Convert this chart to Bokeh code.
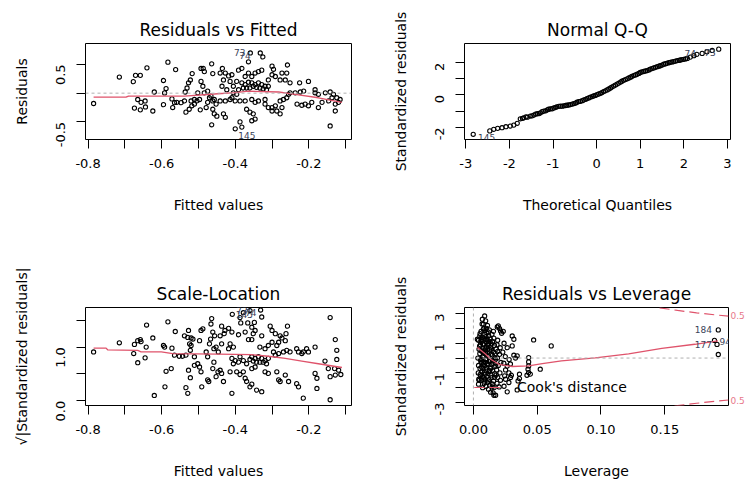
import math
from bokeh.plotting import figure
from bokeh.layouts import column, row
from bokeh.models import Range1d, FixedTicker, LinearAxis, Span
from bokeh.core.properties import value
from bokeh.embed import file_html
from bokeh.resources import INLINE

FONT = "DejaVu Sans"
RED = "#DF536B"
LABEL_COL = "#3a4258"

# ---------------- Panel 1: Residuals vs Fitted ----------------
rf_fitted = [-0.785, -0.715, -0.677, -0.671, -0.658, -0.640, -0.665, -0.645, -0.656, -0.674, -0.658, -0.644,
             -0.624, -0.620, -0.595, -0.583, -0.562, -0.592, -0.588, -0.595, -0.572, -0.565, -0.570, -0.559,
             -0.547, -0.538, -0.536, -0.531, -0.527, -0.522, -0.517, -0.534, -0.525, -0.518, -0.511, -0.504,
             -0.497, -0.493, -0.487, -0.484, -0.464, -0.461, -0.493, -0.488, -0.484, -0.475, -0.470, -0.466,
             -0.461, -0.457, -0.452, -0.479, -0.475, -0.461, -0.495, -0.457, -0.450, -0.464, -0.502, -0.511,
             -0.520,
             -0.359, -0.364, -0.332, -0.325,
             -0.435, -0.441, -0.427, -0.418, -0.409, -0.432, -0.414, -0.436, -0.423, -0.405, -0.391, -0.382,
             -0.396, -0.373, -0.364, -0.355, -0.346, -0.337, -0.328, -0.300, -0.296, -0.300, -0.291, -0.273,
             -0.258, -0.260, -0.264, -0.251, -0.225, -0.201, -0.278, -0.310,
             -0.382, -0.373, -0.364, -0.355, -0.346, -0.337, -0.328, -0.319, -0.310, -0.378, -0.369, -0.360,
             -0.351, -0.342, -0.333, -0.324, -0.315, -0.391, -0.405, -0.396, -0.409,
             -0.441, -0.427, -0.414, -0.400, -0.387, -0.373, -0.355, -0.346, -0.337, -0.319, -0.319, -0.310,
             -0.300, -0.291, -0.278, -0.269, -0.260, -0.255, -0.251, -0.237, -0.223, -0.214, -0.183, -0.183,
             -0.174, -0.155, -0.142, -0.133, -0.124, -0.115, -0.146, -0.164, -0.192, -0.201, -0.210, -0.232,
             -0.219, -0.174, -0.128, -0.273, -0.287, -0.300,
             -0.432, -0.427, -0.369, -0.360, -0.351, -0.346, -0.355, -0.387, -0.382, -0.400, -0.278, -0.128,
             -0.142, -0.137, -0.119]
rf_resid = [-0.18, 0.28, 0.20, 0.31, 0.31, 0.44, -0.11, -0.135, -0.16, -0.26, -0.29, -0.24,
            -0.31, 0.02, 0.22, 0.54, 0.41, 0.005, 0.08, -0.20, -0.10, -0.165, -0.25, -0.16,
            -0.165, -0.135, 0.02, 0.09, 0.18, 0.23, 0.34, -0.33, -0.28, -0.22, -0.19, -0.135,
            -0.11, 0.43, 0.43, 0.375, 0.51, 0.34, 0.205, 0.12, 0.006, 0.035, -0.08, -0.05,
            -0.135, -0.11, -0.19, -0.25, -0.16, -0.28, -0.29, -0.36, -0.40, -0.55, 0.006, -0.11,
            -0.135,
            0.70, 0.546, 0.70, 0.63,
            0.43, 0.35, 0.35, 0.30, 0.32, 0.23, 0.205, 0.12, 0.06, 0.12, 0.40, 0.43,
            0.205, 0.29, 0.35, 0.29, 0.35, 0.375, 0.40, 0.47, 0.415, 0.32, 0.29, 0.35,
            0.49, 0.35, 0.23, 0.18, 0.18, 0.205, 0.23, 0.23,
            0.18, 0.15, 0.19, 0.18, 0.15, 0.18, 0.15, 0.12, 0.12, 0.09, 0.09, 0.09,
            0.12, 0.10, 0.09, 0.075, 0.06, 0.06, 0.006, -0.02, -0.08,
            -0.135, -0.135, -0.11, -0.135, -0.135, -0.135, -0.11, -0.16, -0.135, -0.11, -0.19, -0.25,
            -0.25, -0.22, -0.135, -0.11, -0.08, -0.02, 0.006, 0.006, 0.02, 0.035, 0.06, 0.006,
            -0.02, 0.006, 0.02, -0.02, -0.08, -0.11, -0.135, -0.16, -0.16, -0.22, -0.19, -0.19,
            -0.21, -0.25, -0.19, -0.25, -0.31, -0.31,
            -0.36, -0.42, -0.28, -0.33, -0.36, -0.45, -0.48, -0.50, -0.59, -0.62, -0.36, -0.31,
            -0.57, -0.08, -0.16]
rf_smooth_x = [-0.785, -0.697, -0.690, -0.538, -0.447, -0.400, -0.364, -0.282, -0.237, -0.174, -0.110]
rf_smooth_y = [-0.07, -0.07, -0.05, -0.05, -0.01, 0.01, 0.035, 0.02, -0.02, -0.08, -0.16]
rf_ids = ["73", "74", "145"]
rf_id_x = [-0.372, -0.358, -0.345]
rf_id_y = [0.71, 0.66, -0.73]

# ---------------- Panel 2: Normal Q-Q ----------------
qq_theo = [-2.83, -2.45, -2.36, -2.27, -2.17, -2.08, -1.98, -1.90, -1.82, -1.75, -1.70, -1.67, -1.62,
           -1.59, -1.52, -1.48, -1.44, -1.40, -1.36, -1.32, -1.29, -1.25, -1.21, -1.17, -1.13, -1.10,
           -1.06, -1.02, -0.98, -0.94, -0.91, -0.87, -0.83, -0.79, -0.75, -0.71, -0.68, -0.64, -0.60,
           -0.56, -0.52, -0.48, -0.45, -0.41, -0.37, -0.33, -0.29, -0.25, -0.22, -0.18, -0.14, -0.10,
           -0.07, -0.03, 0.01, 0.05, 0.09, 0.12, 0.16, 0.20, 0.24, 0.28, 0.32, 0.35, 0.39, 0.43, 0.47,
           0.51, 0.55, 0.58, 0.62, 0.66, 0.70, 0.74, 0.78, 0.81, 0.85, 0.89, 0.93, 0.97, 1.00, 1.04,
           1.08, 1.12, 1.16, 1.20, 1.23, 1.27, 1.31, 1.35, 1.39, 1.43, 1.46, 1.50, 1.54, 1.58, 1.62,
           1.66, 1.69, 1.73, 1.77, 1.81, 1.85, 1.89, 1.92, 1.96, 2.00, 2.04, 2.08, 2.15, 2.23, 2.30,
           2.42, 2.53, 2.65, 2.80]
qq_std = [-2.43, -2.22, -2.12, -2.06, -2.02, -1.96, -1.92, -1.86, -1.75, -1.47, -1.44, -1.41, -1.35,
          -1.37, -1.30, -1.29, -1.24, -1.18, -1.16, -1.15, -1.10, -1.03, -1.00, -0.98, -0.92, -0.88,
          -0.86, -0.85, -0.80, -0.76, -0.73, -0.70, -0.69, -0.69, -0.67, -0.65, -0.63, -0.62, -0.59,
          -0.56, -0.53, -0.50, -0.45, -0.41, -0.39, -0.35, -0.31, -0.27, -0.22, -0.18, -0.14, -0.10,
          -0.06, -0.03, 0.02, 0.06, 0.10, 0.15, 0.20, 0.25, 0.31, 0.37, 0.43, 0.49, 0.55, 0.61, 0.67,
          0.73, 0.80, 0.85, 0.90, 0.95, 1.00, 1.05, 1.10, 1.15, 1.20, 1.24, 1.28, 1.33, 1.39, 1.42,
          1.45, 1.48, 1.51, 1.55, 1.59, 1.63, 1.67, 1.71, 1.75, 1.78, 1.81, 1.85, 1.90, 1.93, 1.96,
          1.99, 2.02, 2.04, 2.06, 2.09, 2.12, 2.14, 2.16, 2.18, 2.20, 2.23, 2.26, 2.34, 2.43, 2.51,
          2.57, 2.67, 2.75, 2.83]
qq_ids = ["145", "74", "73"]
qq_id_x = [-2.72, 2.28, 2.73]
qq_id_y = [-2.60, 2.57, 2.63]
qq_id_align = ["left", "right", "right"]

# ---------------- Panel 3: Scale-Location ----------------
sl_fitted = [-0.785, -0.715, -0.674, -0.665, -0.658, -0.656, -0.642, -0.676, -0.665, -0.645, -0.641, -0.624,
             -0.620, -0.595, -0.592, -0.588, -0.574, -0.591, -0.583, -0.572, -0.563, -0.565, -0.552, -0.543,
             -0.534, -0.538, -0.529, -0.520, -0.515, -0.527, -0.524, -0.522, -0.520, -0.534, -0.529, -0.527,
             -0.522, -0.511, -0.511, -0.502, -0.497, -0.493, -0.491, -0.497, -0.493, -0.488, -0.479, -0.475,
             -0.470, -0.467, -0.466, -0.464, -0.461, -0.458, -0.456, -0.452, -0.475, -0.472, -0.461, -0.458,
             -0.452, -0.447,
             -0.408, -0.387, -0.385, -0.366, -0.348, -0.331, -0.328, -0.378, -0.360, -0.437, -0.428, -0.418,
             -0.430, -0.441, -0.409, -0.391, -0.373, -0.355, -0.346, -0.351, -0.328, -0.305, -0.300, -0.291,
             -0.278, -0.273, -0.258, -0.262, -0.264, -0.282, -0.287, -0.300, -0.310, -0.319, -0.333, -0.355,
             -0.364, -0.437, -0.414, -0.405, -0.446, -0.418,
             -0.355, -0.346, -0.337, -0.328, -0.319, -0.342, -0.333, -0.324, -0.315, -0.351, -0.360, -0.310,
             -0.409, -0.400, -0.391, -0.378, -0.369, -0.405, -0.387,
             -0.296, -0.291, -0.282, -0.269, -0.260, -0.251, -0.233, -0.228, -0.219, -0.206, -0.215, -0.201,
             -0.183, -0.156, -0.128, -0.124, -0.124, -0.119, -0.130,
             -0.441, -0.437, -0.432, -0.414, -0.396, -0.387, -0.378, -0.373, -0.369, -0.360, -0.355, -0.342,
             -0.328, -0.409, -0.346, -0.355, -0.319, -0.310, -0.287, -0.282, -0.278, -0.264, -0.255, -0.233,
             -0.228, -0.183, -0.178, -0.178, -0.147, -0.142, -0.215, -0.142, -0.128, -0.142, -0.113]
sl_sqrt_std = [0.91, 1.08, 1.05, 1.12, 1.14, 1.10, 1.00, 0.88, 0.71, 0.80, 1.41, 1.17,
               0.10, 1.03, 1.00, 0.55, 0.60, 0.26, 1.47, 0.98, 1.29, 0.85, 0.83, 0.83,
               0.85, 1.21, 1.18, 1.17, 1.15, 1.31, 1.06, 0.94, 1.03, 0.245, 0.14, 0.57,
               0.43, 0.82, 0.66, 0.69, 0.63, 0.54, 0.26, 1.12, 1.31, 1.34, 0.91, 0.82,
               1.06, 1.15, 1.43, 1.53, 1.28, 0.97, 1.21, 1.00, 0.39, 0.36, 0.60, 0.72,
               0.45, 0.54,
               1.61, 1.55, 1.45, 1.45, 1.46, 1.69, 1.56, 1.64, 1.68, 1.39, 1.31, 1.35,
               1.25, 1.21, 1.28, 1.23, 1.28, 1.37, 1.31, 1.25, 1.21, 1.39, 1.31, 1.25,
               1.21, 1.17, 1.39, 1.25, 1.12, 1.09, 1.03, 1.09, 1.03, 0.97, 1.00, 1.14,
               1.14, 1.06, 1.06, 1.00, 0.91, 0.97,
               0.82, 0.79, 0.82, 0.79, 0.75, 0.72, 0.72, 0.72, 0.69, 0.74, 0.77, 0.79,
               0.79, 0.75, 0.72, 0.75, 0.69, 0.69, 0.82,
               0.91, 0.85, 0.88, 0.91, 0.94, 0.91, 0.97, 0.91, 0.88, 0.97, 0.91, 0.91,
               1.00, 0.74, 1.14, 0.94, 0.77, 0.57, 0.60,
               0.57, 0.51, 0.36, 0.54, 0.54, 0.49, 0.54, 0.42, 0.36, 0.26, 0.31, 0.20,
               0.17, 0.14, 0.63, 0.60, 0.54, 0.51, 0.54, 0.39, 0.36, 0.48, 0.36, 0.32,
               0.26, 0.51, 0.42, 0.23, 0.60, 0.45, 0.05, 0.02, 0.48, 1.55, 0.49]
sl_smooth_x = [-0.785, -0.751, -0.747, -0.665, -0.656, -0.601, -0.570, -0.447, -0.355, -0.310, -0.264,
               -0.219, -0.174, -0.110]
sl_smooth_y = [0.98, 0.98, 0.95, 0.94, 0.91, 0.91, 0.88, 0.87, 0.86, 0.83, 0.79, 0.74, 0.69, 0.62]
sl_ids = ["145", "73", "74"]
sl_id_x = [-0.352, -0.366, -0.342]
sl_id_y = [1.60, 1.68, 1.64]

# ---------------- Panel 4: Residuals vs Leverage ----------------
lev_h = [0.0031, 0.0039, 0.0044, 0.0035, 0.0040, 0.0038, 0.0042, 0.0040, 0.0045,
         0.0088, 0.0070, 0.0096, 0.0078, 0.0083, 0.0060, 0.0090, 0.0070, 0.0065, 0.0080, 0.0092, 0.0060,
         0.0085, 0.0072, 0.0095, 0.0062, 0.0088, 0.0075, 0.0066, 0.0093, 0.0078, 0.0062, 0.0085, 0.0098,
         0.0072,
         0.0110, 0.0125, 0.0105, 0.0120, 0.0108, 0.0130, 0.0115, 0.0102, 0.0128, 0.0110, 0.0120, 0.0105,
         0.0125, 0.0112, 0.0101, 0.0128, 0.0115, 0.0105, 0.0122, 0.0110, 0.0128, 0.0118, 0.0135,
         0.0145, 0.0160, 0.0150, 0.0165, 0.0142, 0.0158, 0.0148, 0.0168, 0.0152, 0.0143, 0.0162, 0.0150,
         0.0167, 0.0145, 0.0158, 0.0148, 0.0163, 0.0155, 0.0161,
         0.0195, 0.0205, 0.0213, 0.0221, 0.0190, 0.0185, 0.0210, 0.0190, 0.0205, 0.0188, 0.0215, 0.0195,
         0.0182, 0.0208, 0.0190, 0.0212, 0.0185, 0.0202, 0.0174,
         0.0240, 0.0265, 0.0230, 0.0250, 0.0280, 0.0238, 0.0265, 0.0290, 0.0252, 0.0278, 0.0245, 0.0291,
         0.0298, 0.0252, 0.0278, 0.0265, 0.0240,
         0.0304, 0.0317, 0.0304, 0.0317, 0.0343, 0.0330, 0.0433, 0.0433, 0.0433, 0.0428, 0.0433, 0.0446,
         0.0420, 0.0361, 0.0361, 0.0350, 0.0524, 0.0472, 0.0610, 0.0343, 0.0187, 0.0234,
         0.0050, 0.0060, 0.0055, 0.0050, 0.0058, 0.0052, 0.0057, 0.0090, 0.0105, 0.0095, 0.0092, 0.0098,
         0.0088, 0.0135, 0.0138, 0.0132, 0.0135, 0.0138, 0.0178, 0.0172, 0.0175, 0.0178, 0.0068, 0.0078,
         0.0098, 0.0118,
         0.0052, 0.0066, 0.0074, 0.0048, 0.0069, 0.0081, 0.0058, 0.0077, 0.0064, 0.0086, 0.0053, 0.0071,
         0.0083, 0.0061, 0.0079, 0.0094, 0.0100, 0.0113, 0.0107, 0.0119, 0.0124, 0.0103, 0.0116, 0.0132,
         0.0141, 0.0153, 0.0170, 0.0147, 0.0157, 0.0166,
         0.1920, 0.1890, 0.1910, 0.1920]
lev_std = [1.27, 1.20, 0.60, 0.00, -0.50, -1.00, -1.43, -1.76, -1.50,
           2.84, 2.62, 2.51, 2.28, 2.00, 1.80, 1.60, 1.40, 1.10, 0.90, 0.70, 0.50,
           0.30, 0.10, -0.10, -0.30, -0.50, -0.70, -0.90, -1.10, -1.30, -1.50, -1.70, -1.90,
           -2.00,
           2.20, 1.90, 1.70, 1.50, 1.30, 1.10, 0.90, 0.75, 0.55, 0.35, 0.15, -0.05,
           -0.25, -0.45, -0.65, -0.85, -1.05, -1.25, -1.45, -1.65, -1.85, -2.10, -2.30,
           1.60, 1.35, 1.10, 0.85, 0.60, 0.40, 0.20, 0.00, -0.20, -0.40, -0.60, -0.85,
           -1.05, -1.30, -1.55, -1.75, -2.00, -2.35, -2.51,
           2.17, 1.99, 1.83, 1.67, 1.20, 0.90, 0.70, 0.45, 0.25, 0.00, -0.30, -0.50,
           -0.80, -1.00, -1.30, -1.50, -1.70, -1.95, -2.51,
           1.00, 0.70, 0.40, 0.10, -0.10, -0.35, -0.55, -0.40, -0.80, -1.00, -1.20, -1.31,
           -1.16, -1.43, -1.65, -2.28, -1.90,
           1.49, 1.27, 0.82, 0.19, 0.15, 0.00, 0.03, -0.26, -0.53, -0.75, -0.98, -1.09,
           -1.16, -1.09, -1.38, -1.54, -0.75, 1.22, 0.82, -2.15, 2.10, 1.80,
           1.50, 1.20, 0.90, 0.30, -0.10, -0.70, -1.20, 1.85, 1.10, 0.35, -0.30, -0.80,
           -1.40, 0.70, 0.25, -0.15, -0.70, -1.15, 0.60, -0.10, -0.55, -1.15, 2.30, 1.95,
           1.45, 1.75,
           1.65, 1.25, 0.95, 0.80, 0.45, 0.15, -0.20, -0.45, -0.60, -0.95, -1.10, -1.25,
           -1.55, 1.35, 0.40, 0.55, 1.25, 0.60, -0.40, 1.00, -0.90, 2.00, -1.55, 1.30,
           0.95, -0.35, 0.30, -1.95, 1.80, -1.30,
           1.90, 1.19, 0.92, 0.24]
lev_smooth_x = [0.0031, 0.0096, 0.0135, 0.0200, 0.0304, 0.0433, 0.0540, 0.0690, 0.0955, 0.1217, 0.1477,
                0.1736, 0.1917]
lev_smooth_y = [0.71, 0.26, -0.08, -0.42, -0.57, -0.53, -0.37, -0.19, 0.01, 0.28, 0.66, 0.93, 1.16]
cook_h = [0.146, 0.160, 0.175, 0.190, 0.200]
cook_hi = [3.39, 3.21, 3.05, 2.91, 2.83]
cook_lo = [-3.39, -3.21, -3.05, -2.91, -2.83]
cook_level_pos = [-2.89, 2.89]
lev_ids = ["184", "177", "94"]
lev_id_x = [0.187, 0.187, 0.193]
lev_id_y = [1.90, 0.93, 1.11]
lev_id_align = ["right", "right", "left"]


def tick_labels(ticks, shown):
    return {float(t): (s if s is not None else "") for t, s in zip(ticks, shown)}


def make_panel(width, height, xr, yr, borders, title, xlabel, ylabel,
               xticks, xshown, yticks, yshown):
    left, right, top, bottom = borders
    p = figure(width=width, height=height, x_range=Range1d(*xr), y_range=Range1d(*yr),
               output_backend="svg", toolbar_location=None,
               min_border_left=left, min_border_right=right,
               min_border_top=top, min_border_bottom=bottom)
    p.background_fill_color = "white"
    p.border_fill_color = "white"
    p.outline_line_color = "black"
    p.outline_line_width = 1
    p.outline_line_alpha = 1
    p.xgrid.visible = False
    p.ygrid.visible = False
    p.title.text = title
    p.title.align = "center"
    p.title.text_font = FONT
    p.title.text_font_size = "17px"
    p.title.text_font_style = "normal"
    p.title.text_color = "black"
    p.title.standoff = 8
    for ax, ticks, shown, lab in ((p.xaxis[0], xticks, xshown, xlabel),
                                  (p.yaxis[0], yticks, yshown, ylabel)):
        ax.ticker = FixedTicker(ticks=ticks)
        ax.major_label_overrides = tick_labels(ticks, shown)
        ax.axis_line_color = None
        ax.minor_tick_line_color = None
        ax.major_tick_line_color = "black"
        ax.major_tick_line_width = 1
        ax.major_tick_in = 0
        ax.major_tick_out = 9
        ax.major_label_text_font = FONT
        ax.major_label_text_font_size = "13px"
        ax.major_label_text_color = "black"
        ax.axis_label = lab
        ax.axis_label_text_font = FONT
        ax.axis_label_text_font_size = "14px"
        ax.axis_label_text_font_style = "normal"
        ax.axis_label_text_color = "black"
    p.xaxis[0].major_label_standoff = 10
    p.xaxis[0].axis_label_standoff = 26
    p.yaxis[0].major_label_orientation = math.pi / 2
    p.yaxis[0].major_label_standoff = 16
    p.yaxis[0].axis_label_standoff = 19
    return p


def points(p, x, y):
    p.scatter(x, y, marker="circle", size=4.2, fill_color=None, line_color="black", line_width=1.1)


def ids(p, x, y, text, align):
    p.text(x=x, y=y, text=text, text_font=value(FONT), text_font_size=value("9px"),
           text_color=LABEL_COL, text_align=align, text_baseline="middle")


def zero_line(p, dim):
    p.add_layout(Span(location=0, dimension=dim, line_color="#b0b0b0", line_dash="3 3", line_width=1))


fit_ticks = [-0.8, -0.7, -0.6, -0.5, -0.4, -0.3, -0.2, -0.1]
fit_shown = ["-0.8", None, "-0.6", None, "-0.4", None, "-0.2", None]

# Panel 1
p1 = make_panel(373, 242, (-0.807, -0.084), (-0.806, 0.864), (85, 22, 41, 103),
                "Residuals vs Fitted", "Fitted values", "Residuals",
                fit_ticks, fit_shown, [-0.5, 0, 0.5], ["-0.5", None, "0.5"])
zero_line(p1, "width")
points(p1, rf_fitted, rf_resid)
p1.line(rf_smooth_x, rf_smooth_y, line_color=RED, line_width=1.3)
ids(p1, rf_id_x, rf_id_y, rf_ids, "right")

# Panel 2
p2 = make_panel(374, 242, (-3.03, 3.07), (-2.75, 3.18), (91, 17, 43, 102),
                "Normal Q-Q", "Theoretical Quantiles", "Standardized residuals",
                [-3, -2, -1, 0, 1, 2, 3], ["-3", "-2", "-1", "0", "1", "2", "3"],
                [-2, -1, 0, 1, 2], ["-2", None, "0", None, "2"])
points(p2, qq_theo, qq_std)
for i in range(len(qq_ids)):
    ids(p2, [qq_id_x[i]], [qq_id_y[i]], [qq_ids[i]], qq_id_align[i])

# Panel 3
p3 = make_panel(373, 242, (-0.807, -0.084), (-0.087, 1.737), (85, 22, 65, 78),
                "Scale-Location", "Fitted values", "\u221a|Standardized residuals|",
                fit_ticks, fit_shown, [0.0, 0.5, 1.0, 1.5], ["0.0", None, "1.0", None])
points(p3, sl_fitted, sl_sqrt_std)
p3.line(sl_smooth_x, sl_smooth_y, line_color=RED, line_width=1.3)
ids(p3, sl_id_x, sl_id_y, sl_ids, "right")

# Panel 4
p4 = make_panel(374, 242, (-0.007, 0.200), (-3.20, 3.41), (91, 17, 65, 79),
                "Residuals vs Leverage", "Leverage", "Standardized residuals",
                [0.0, 0.05, 0.1, 0.15], ["0.00", "0.05", "0.10", "0.15"],
                [-3, -2, -1, 0, 1, 2, 3], ["-3", None, "-1", None, "1", None, "3"])
zero_line(p4, "width")
zero_line(p4, "height")
points(p4, lev_h, lev_std)
p4.line(lev_smooth_x, lev_smooth_y, line_color=RED, line_width=1.3)
p4.line(cook_h, cook_hi, line_color=RED, line_dash="10 5", line_width=1.2, legend_label="Cook's distance")
p4.line(cook_h, cook_lo, line_color=RED, line_dash="10 5", line_width=1.2, legend_label="Cook's distance")
for i in range(len(lev_ids)):
    ids(p4, [lev_id_x[i]], [lev_id_y[i]], [lev_ids[i]], lev_id_align[i])
lg = p4.legend[0]
lg.location = "bottom_left"
lg.background_fill_alpha = 0
lg.border_line_alpha = 0
lg.margin = 5
lg.padding = 5
lg.glyph_width = 30
lg.glyph_height = 14
lg.label_height = 14
lg.label_standoff = 13
lg.label_text_font = FONT
lg.label_text_font_size = "14px"
lg.label_text_color = "black"
cook_axis = LinearAxis(ticker=FixedTicker(ticks=cook_level_pos),
                       major_label_overrides={float(v): "0.5" for v in cook_level_pos})
cook_axis.axis_line_color = None
cook_axis.major_tick_line_color = None
cook_axis.minor_tick_line_color = None
cook_axis.major_tick_in = 0
cook_axis.major_tick_out = 0
cook_axis.major_label_standoff = 2
cook_axis.major_label_text_font = FONT
cook_axis.major_label_text_font_size = "9px"
cook_axis.major_label_text_color = "#e8788a"
p4.add_layout(cook_axis, "right")

layout = column(row(p1, p2), row(p3, p4))
open("out.html", "w").write(file_html(layout, INLINE))
